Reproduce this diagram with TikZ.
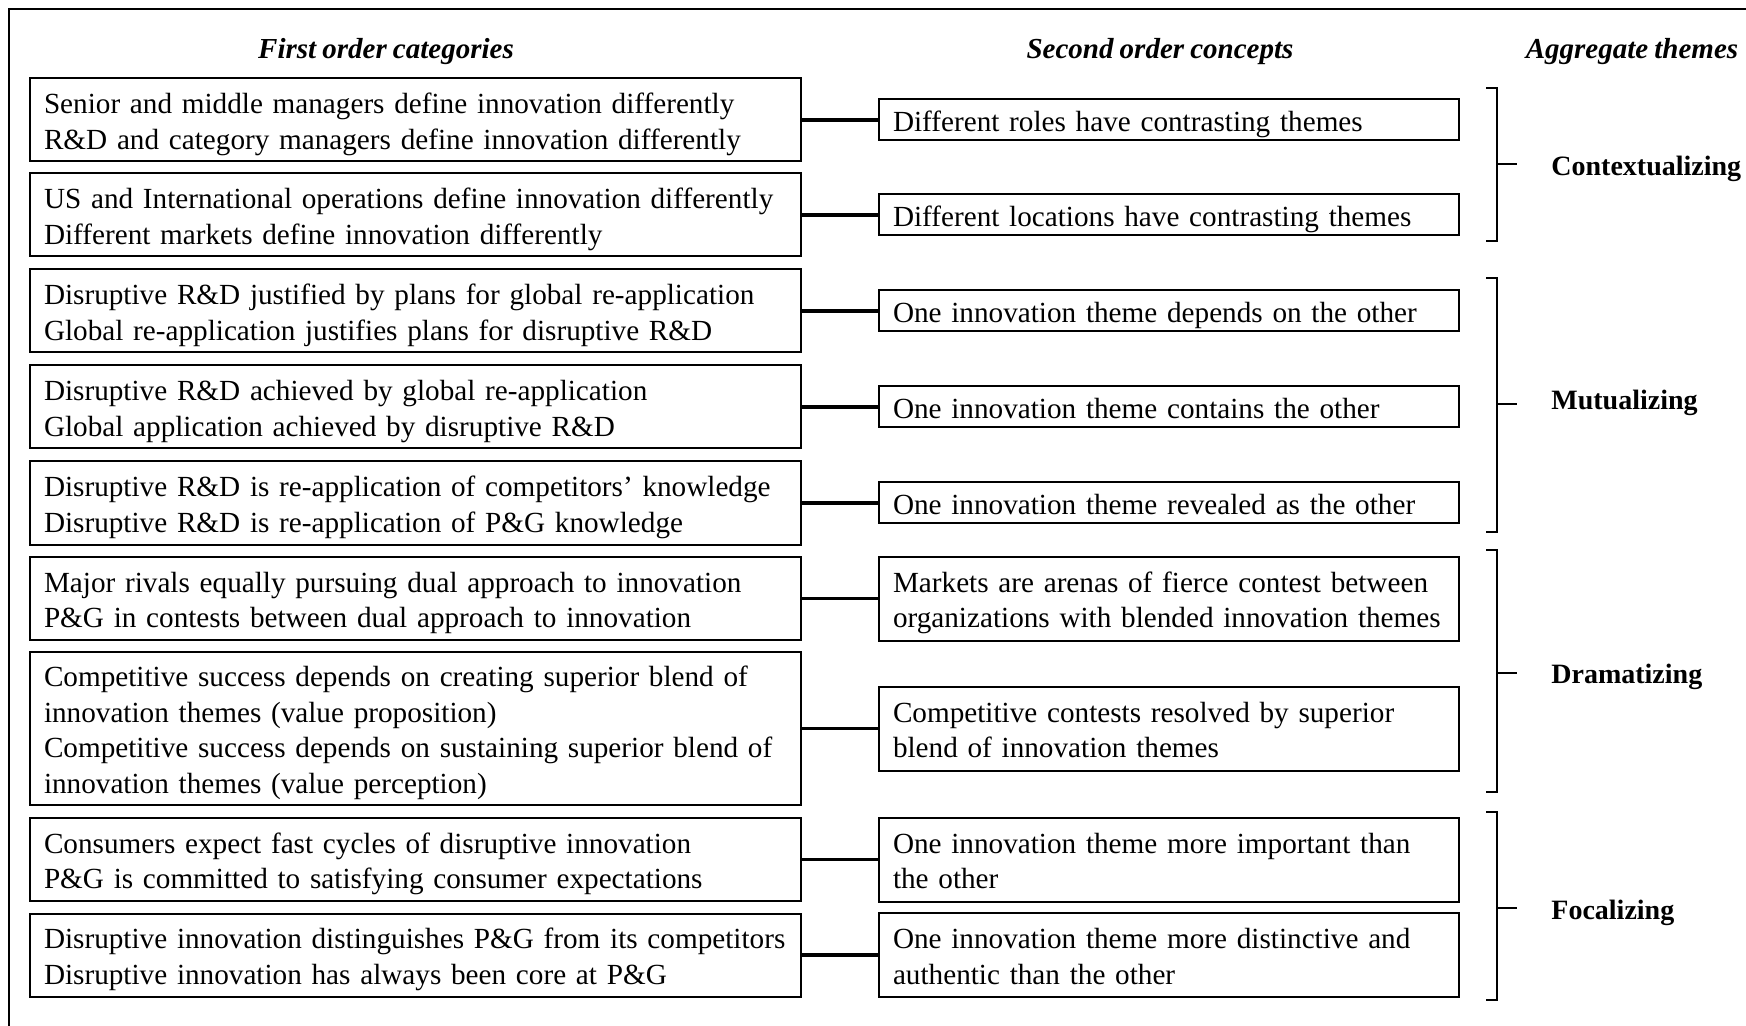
\documentclass[tikz,border=0pt]{standalone}
\usepackage{fontspec}
\setmainfont{Liberation Serif}[WordSpace=0.85]
\begin{document}
\begin{tikzpicture}[x=0.5pt,y=-0.5pt,
  boxbase/.style={draw, line width=1pt, inner ysep=0pt, align=left,
    font=\fontsize{14.6}{17.8}\selectfont,
    execute at begin node={\rule{0pt}{16pt}},
    execute at end node={\rule[-4.5pt]{0pt}{0pt}}},
  lbox/.style={boxbase, inner xsep=7pt, text width=371.5pt, minimum height=41.5pt},
  rbox/.style={boxbase, inner xsep=7pt, text width=276pt, minimum height=20.5pt},
  link/.style={line width=1.6pt},
  brk/.style={line width=1.3pt},
  hdr/.style={font=\fontsize{14.5}{16}\selectfont\bfseries\itshape, inner sep=0pt},
  theme/.style={font=\fontsize{14}{16}\selectfont\bfseries, anchor=west, inner sep=0pt}]
\useasboundingbox (0,0) rectangle (1746,1026);
% outer frame
\coordinate (f0) at (9,1026);
\coordinate (f1) at (9,9);
\coordinate (f2) at (1746,9);
\draw[line width=1.2pt] (f0) -- (f1) -- (f2);

% headers
\node[hdr] (h1) at (386,52) {First order categories};
\node[hdr] (h2) at (1160,52) {Second order concepts};
\node[hdr] (h3) at (1632,52) {Aggregate themes};

% first order categories
\node[lbox] (a1) at (415.5,120) {Senior and middle managers define innovation differently\\R\&D and category managers define innovation differently};
\node[lbox] (a2) at (415.5,215) {US and International operations define innovation differently\\Different markets define innovation differently};
\node[lbox] (a3) at (415.5,311) {Disruptive R\&D justified by plans for global re-application\\Global re-application justifies plans for disruptive R\&D};
\node[lbox] (a4) at (415.5,407) {Disruptive R\&D achieved by global re-application\\Global application achieved by disruptive R\&D};
\node[lbox] (a5) at (415.5,503) {Disruptive R\&D is re-application of competitors’ knowledge\\Disruptive R\&D is re-application of P\&G knowledge};
\node[lbox] (a6) at (415.5,598.5) {Major rivals equally pursuing dual approach to innovation\\P\&G in contests between dual approach to innovation};
\node[lbox, minimum height=76.5pt] (a7) at (415.5,728.5) {Competitive success depends on creating superior blend of\\innovation themes (value proposition)\\Competitive success depends on sustaining superior blend of\\innovation themes (value perception)};
\node[lbox] (a8) at (415.5,859.5) {Consumers expect fast cycles of disruptive innovation\\P\&G is committed to satisfying consumer expectations};
\node[lbox] (a9) at (415.5,955) {Disruptive innovation distinguishes P\&G from its competitors\\Disruptive innovation has always been core at P\&G};

% second order concepts
\node[rbox] (b1) at (1169,120) {Different roles have contrasting themes};
\node[rbox] (b2) at (1169,215) {Different locations have contrasting themes};
\node[rbox] (b3) at (1169,311) {One innovation theme depends on the other};
\node[rbox] (b4) at (1169,407) {One innovation theme contains the other};
\node[rbox] (b5) at (1169,503) {One innovation theme revealed as the other};
\node[rbox, minimum height=42pt] (b6) at (1169,598.5) {Markets are arenas of fierce contest between\\organizations with blended innovation themes};
\node[rbox, minimum height=42pt] (b7) at (1169,728.5) {Competitive contests resolved by superior\\blend of innovation themes};
\node[rbox, minimum height=42pt] (b8) at (1169,859.5) {One innovation theme more important than\\the other};
\node[rbox, minimum height=42pt] (b9) at (1169,955) {One innovation theme more distinctive and\\authentic than the other};

% connectors
\foreach \i in {1,...,9} {\draw[link] (a\i.east) -- (b\i.west);}

% brackets
\coordinate (g1a) at (1486,88);  \coordinate (g1b) at (1486,241); \coordinate (g1t) at (1497,164);
\coordinate (g2a) at (1486,278); \coordinate (g2b) at (1486,532); \coordinate (g2t) at (1497,404);
\coordinate (g3a) at (1486,550); \coordinate (g3b) at (1486,792); \coordinate (g3t) at (1497,673);
\coordinate (g4a) at (1486,812); \coordinate (g4b) at (1486,1000); \coordinate (g4t) at (1497,908);
\foreach \g in {1,2,3,4} {
  \draw[brk] (g\g a) -- ++(11,0) |- (g\g b);
  \draw[brk] (g\g t) -- ++(20,0);
}

% aggregate themes
\node[theme] (t1) at (1551,168.5) {Contextualizing};
\node[theme] (t2) at (1551,402.5) {Mutualizing};
\node[theme] (t3) at (1551,676.5) {Dramatizing};
\node[theme] (t4) at (1551,912.5) {Focalizing};
\end{tikzpicture}
\end{document}
